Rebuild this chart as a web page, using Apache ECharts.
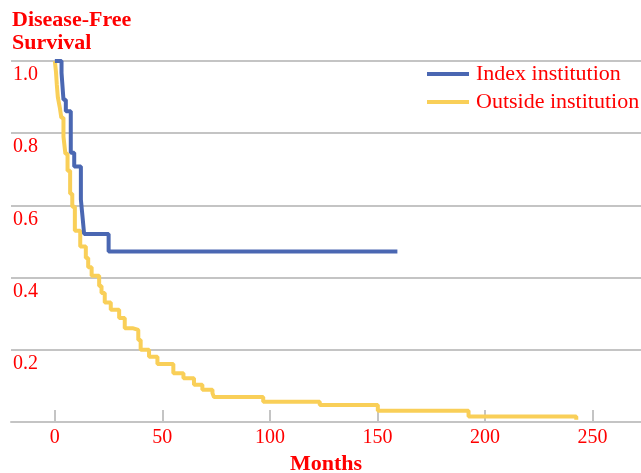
<!DOCTYPE html>
<html>
<head>
<meta charset="utf-8">
<script src="https://cdn.jsdelivr.net/npm/echarts@6/dist/echarts.min.js"></script>
<style>
html,body{margin:0;padding:0;background:#fff;}
#chart{width:641px;height:473px;}
</style>
</head>
<body>
<div id="chart"></div>
<script>
// Kaplan-Meier step data (months, survival after event)
var indexMonths   = [0, 3.1, 4.0, 5.1, 7.4, 9.0, 12.1, 12.9, 13.6, 25.0, 159.3];
var indexSurvival = [1.0, 0.967, 0.893, 0.861, 0.746, 0.708, 0.616, 0.566, 0.521, 0.472, 0.472];

var outsideMonths   = [0, 0.5, 0.9, 1.4, 2.3, 3.0, 4.0, 4.9, 5.9, 7.1, 8.1, 9.3, 11.8, 14.4, 15.5, 17.1, 20.6, 21.7, 23.2, 26.0, 29.9, 32.5, 36.1, 38.8, 39.9, 43.8, 47.7, 55.1, 59.8, 64.7, 68.6, 73.3, 74.0, 96.9, 123.2, 150.2, 192.4, 242.5];
var outsideSurvival = [1.0, 0.971, 0.935, 0.899, 0.871, 0.843, 0.790, 0.743, 0.696, 0.632, 0.596, 0.530, 0.486, 0.454, 0.429, 0.405, 0.377, 0.357, 0.331, 0.311, 0.288, 0.260, 0.255, 0.227, 0.200, 0.181, 0.161, 0.135, 0.121, 0.103, 0.089, 0.080, 0.069, 0.056, 0.047, 0.031, 0.015, 0.006];

var xTicks = [0, 50, 100, 150, 200, 250];
var yTicks = [0.2, 0.4, 0.6, 0.8, 1.0];

var seriesNames = ['Index institution', 'Outside institution'];

function pairs(xs, ys) { return xs.map(function (x, i) { return [x, ys[i]]; }); }

var FONT = "'Liberation Serif', 'Times New Roman', serif";
var RED = '#ff0000';
var GRID = '#c4c4c4';

var chart = echarts.init(document.getElementById('chart'), null, {renderer: 'canvas'});
chart.setOption({
  animation: false,
  backgroundColor: '#ffffff',
  title: {
    text: 'Disease-Free\nSurvival',
    left: 7, top: 4, padding: 5,
    textStyle: {fontFamily: FONT, fontSize: 22, fontWeight: 'bold', color: RED, lineHeight: 23}
  },
  legend: {
    orient: 'vertical',
    left: 422, top: 58,
    itemWidth: 42, itemHeight: 4, itemGap: 6,
    icon: 'rect',
    data: seriesNames,
    textStyle: {fontFamily: FONT, fontSize: 22, color: RED, lineHeight: 22, padding: [0, 0, 0, 2]}
  },
  grid: {left: 11, right: 0, top: 61, height: 361, containLabel: false, outerBoundsMode: 'none'},
  xAxis: {
    type: 'value',
    min: -20.4, max: 272.6,
    name: 'Months',
    nameLocation: 'middle',
    nameGap: 31,
    nameTextStyle: {fontFamily: FONT, fontSize: 22, fontWeight: 'bold', color: RED, lineHeight: 22},
    axisLine: {show: true, lineStyle: {color: GRID, width: 2}},
    axisTick: {show: true, inside: true, length: 12, customValues: xTicks, lineStyle: {color: GRID, width: 2}},
    axisLabel: {customValues: xTicks, fontFamily: FONT, fontSize: 20, color: RED, margin: 6},
    splitLine: {show: false}
  },
  yAxis: {
    type: 'value',
    min: 0, max: 1, interval: 0.2,
    axisLine: {show: false},
    axisTick: {show: false},
    axisLabel: {
      inside: true, margin: 2,
      verticalAlign: 'top', padding: [4, 0, 0, 0],
      fontFamily: FONT, fontSize: 20, color: RED,
      formatter: function (v) { return yTicks.some(function (t) { return Math.abs(t - v) < 1e-6; }) ? v.toFixed(1) : ''; }
    },
    splitLine: {show: true, lineStyle: {color: GRID, width: 2}}
  },
  series: [
    {
      name: seriesNames[0], type: 'line', step: 'end', z: 4,
      showSymbol: false, symbol: 'none',
      data: pairs(indexMonths, indexSurvival),
      itemStyle: {color: '#4a67b2'},
      lineStyle: {color: '#4a67b2', width: 4}
    },
    {
      name: seriesNames[1], type: 'line', step: 'end', z: 3,
      showSymbol: false, symbol: 'none',
      data: pairs(outsideMonths, outsideSurvival),
      itemStyle: {color: '#f9cf58'},
      lineStyle: {color: '#f9cf58', width: 4}
    }
  ]
});
</script>
</body>
</html>
